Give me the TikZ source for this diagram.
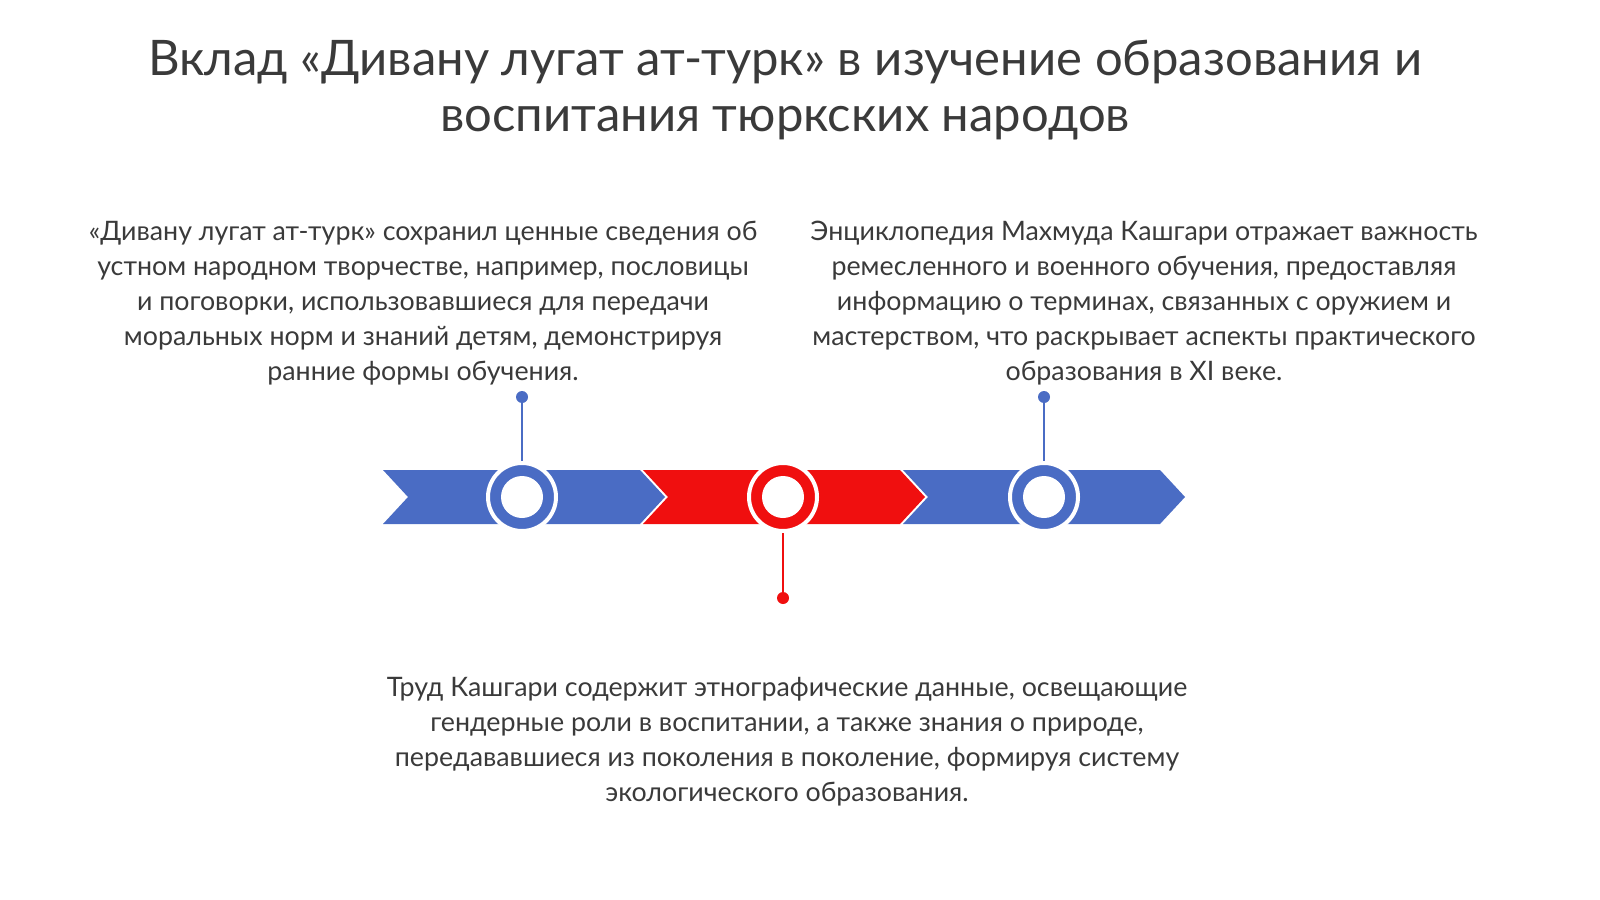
\documentclass[tikz,border=0pt]{standalone}
\usepackage{fontspec}
\setmainfont{Lato}
\usetikzlibrary{positioning}
\definecolor{tlblue}{HTML}{4A6CC4}
\definecolor{tlred}{HTML}{F00F0F}
\definecolor{tltext}{HTML}{3A3A3A}
\begin{document}
\begin{tikzpicture}[x=0.5pt, y=-0.5pt,
  body/.style={text=tltext, font=\fontsize{13.4}{17.5}\selectfont, align=center},
  ring/.style={circle, draw=white, line width=2pt, inner sep=0pt, minimum size=34pt},
  dot/.style={circle, inner sep=0pt, minimum size=6pt}]
  \useasboundingbox (0,0) rectangle (1600,899);
  \def\chevron#1#2{    \fill[#2] (#1,470) -- ++(257,0) -- ++(25,27) -- ++(-25,27) -- ++(-257,0) -- ++(25,-27) -- cycle;
  }
  % title
  \node[text=tltext, font=\fontsize{24.5}{28}\selectfont, align=center] (title) at (785,90)
    {Вклад «Дивану лугат ат-турк» в изучение образования и\\воспитания тюркских народов};
  % band
  \chevron{383}{tlblue}
  \chevron{643}{tlred}
  \chevron{903}{tlblue}
  % markers
  \foreach \n/\x/\c in {a/522/tlblue, b/783/tlred, c/1044/tlblue}{
    \node[ring, fill=\c] (\n) at (\x,497) {};
    \fill[white] (\n) circle (10.5pt);
  }
  \node[dot, fill=tlblue] (da) at (522,397) {};
  \node[dot, fill=tlblue] (dc) at (1044,397) {};
  \node[dot, fill=tlred] (db) at (783,598) {};
  \draw[tlblue, line width=1.2pt] (da) -- (a.north);
  \draw[tlblue, line width=1.2pt] (dc) -- (c.north);
  \draw[tlred, line width=1.2pt] (db) -- (b.south);
  % texts
  \node[body] (left) at (423,303)
    {«Дивану лугат ат-турк» сохранил ценные сведения об\\устном народном творчестве, например, пословицы\\и поговорки, использовавшиеся для передачи\\моральных норм и знаний детям, демонстрируя\\ранние формы обучения.};
  \node[body] (right) at (1144,303)
    {Энциклопедия Махмуда Кашгари отражает важность\\ремесленного и военного обучения, предоставляя\\информацию о терминах, связанных с оружием и\\мастерством, что раскрывает аспекты практического\\образования в XI веке.};
  \node[body] (bottom) at (787,742)
    {Труд Кашгари содержит этнографические данные, освещающие\\гендерные роли в воспитании, а также знания о природе,\\передававшиеся из поколения в поколение, формируя систему\\экологического образования.};
\end{tikzpicture}
\end{document}
